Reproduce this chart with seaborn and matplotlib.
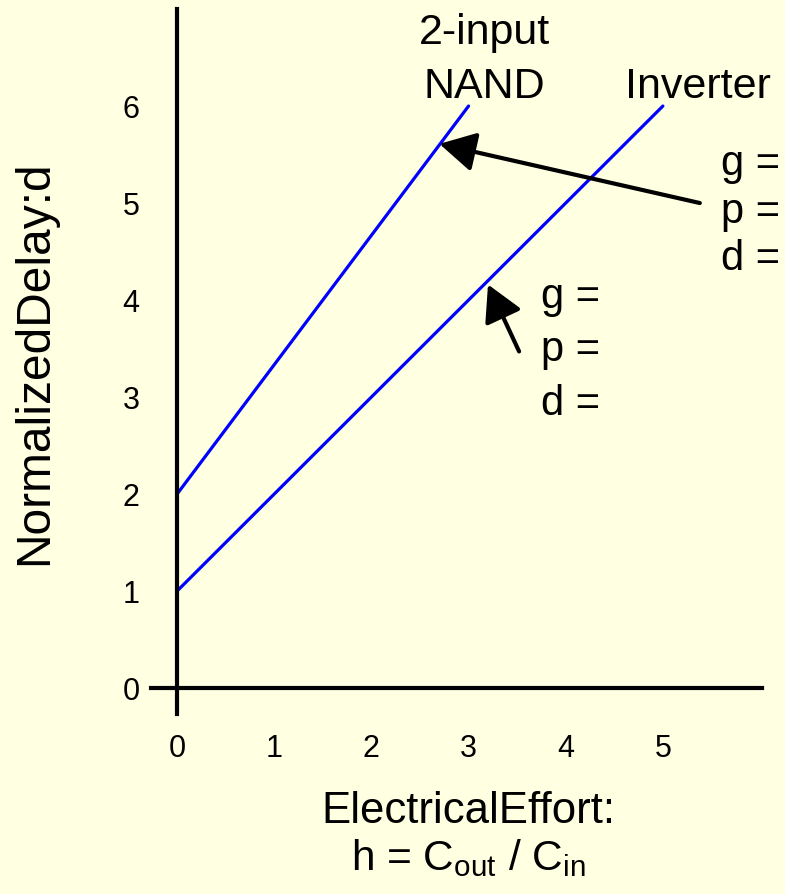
import matplotlib
matplotlib.use("Agg")
import matplotlib.pyplot as plt
import seaborn as sns
import pandas as pd

# ---- data ----
gates = ["2-input\nNAND", "2-input\nNAND", "Inverter", "Inverter"]
h_values = [0, 3, 0, 5]
d_values = [2, 6, 1, 6]
x_ticks = [0, 1, 2, 3, 4, 5]
y_ticks = [0, 1, 2, 3, 4, 5, 6]
eq_labels = ["g =", "p =", "d ="]

BG = "#FFFFE1"
FONT = "Liberation Sans"

sns.set_theme(style="white")
plt.rcParams["font.family"] = [FONT, "DejaVu Sans"]
plt.rcParams["mathtext.fontset"] = "custom"
plt.rcParams["mathtext.rm"] = FONT
plt.rcParams["mathtext.it"] = FONT

df = pd.DataFrame({"gate": gates, "h": h_values, "d": d_values})

fig = plt.figure(figsize=(7.85, 8.94), dpi=100, facecolor=BG)
ax = fig.add_axes([0.1924, 0.2013, 0.7783, 0.7886])
ax.set_facecolor(BG)

sns.lineplot(data=df, x="h", y="d", hue="gate",
             palette={"2-input\nNAND": "#0000FF", "Inverter": "#0000FF"},
             linewidth=2.3, legend=False, ax=ax, sort=False, estimator=None)

ax.set_xlim(-0.268, 6.02)
ax.set_ylim(-0.268, 7.0)

for s in ["top", "right"]:
    ax.spines[s].set_visible(False)
for s in ["left", "bottom"]:
    ax.spines[s].set_position(("data", 0))
    ax.spines[s].set_color("black")
    ax.spines[s].set_linewidth(3)
ax.spines["left"].set_bounds(-0.268, 7.0)
ax.spines["bottom"].set_bounds(-0.268, 6.02)

ax.set_xticks(x_ticks)
ax.set_yticks(y_ticks)
ax.tick_params(axis="both", direction="out", length=18, width=3, color="black",
               labelsize=22, labelcolor="black")
ax.tick_params(axis="x", pad=15)
ax.tick_params(axis="y", pad=9)
ax.set_xlabel("")
ax.set_ylabel("")

# axis titles
ax.text(0.52, -0.155, "ElectricalEffort:", transform=ax.transAxes, ha="center",
        va="baseline", fontsize=31.5, color="black")
ax.text(0.52, -0.221, r"h = C$_{\mathrm{out}}$ / C$_{\mathrm{in}}$", transform=ax.transAxes,
        ha="center", va="baseline", fontsize=30.5, color="black")
fig.text(35 / 785, 1 - 363 / 894, "NormalizedDelay:d", rotation=90, ha="center",
         va="center", fontsize=34.5, color="black")

# gate labels
ax.text(3.16, 6.64, "2-input", ha="center", va="baseline", fontsize=31, color="black")
ax.text(3.16, 6.08, "NAND", ha="center", va="baseline", fontsize=31, color="black")
ax.text(5.36, 6.08, "Inverter", ha="center", va="baseline", fontsize=31, color="black")

# equation labels
for lab, y in zip(eq_labels, [5.29, 4.79, 4.31]):
    ax.text(5.60, y, lab, ha="left", va="baseline", fontsize=30, color="black", clip_on=False)
for lab, y in zip(eq_labels, [3.92, 3.37, 2.81]):
    ax.text(3.75, y, lab, ha="left", va="baseline", fontsize=30, color="black")

arrow = dict(arrowstyle="-|>,head_length=1.0,head_width=0.55", mutation_scale=22,
             lw=3, color="black", shrinkA=0, shrinkB=0)
ax.annotate("", xy=(2.70, 5.61), xytext=(5.38, 5.00), arrowprops=arrow)
ax.annotate("", xy=(3.20, 4.16), xytext=(3.52, 3.47), arrowprops=arrow)

fig.savefig("out.png", dpi=100, facecolor=BG)
